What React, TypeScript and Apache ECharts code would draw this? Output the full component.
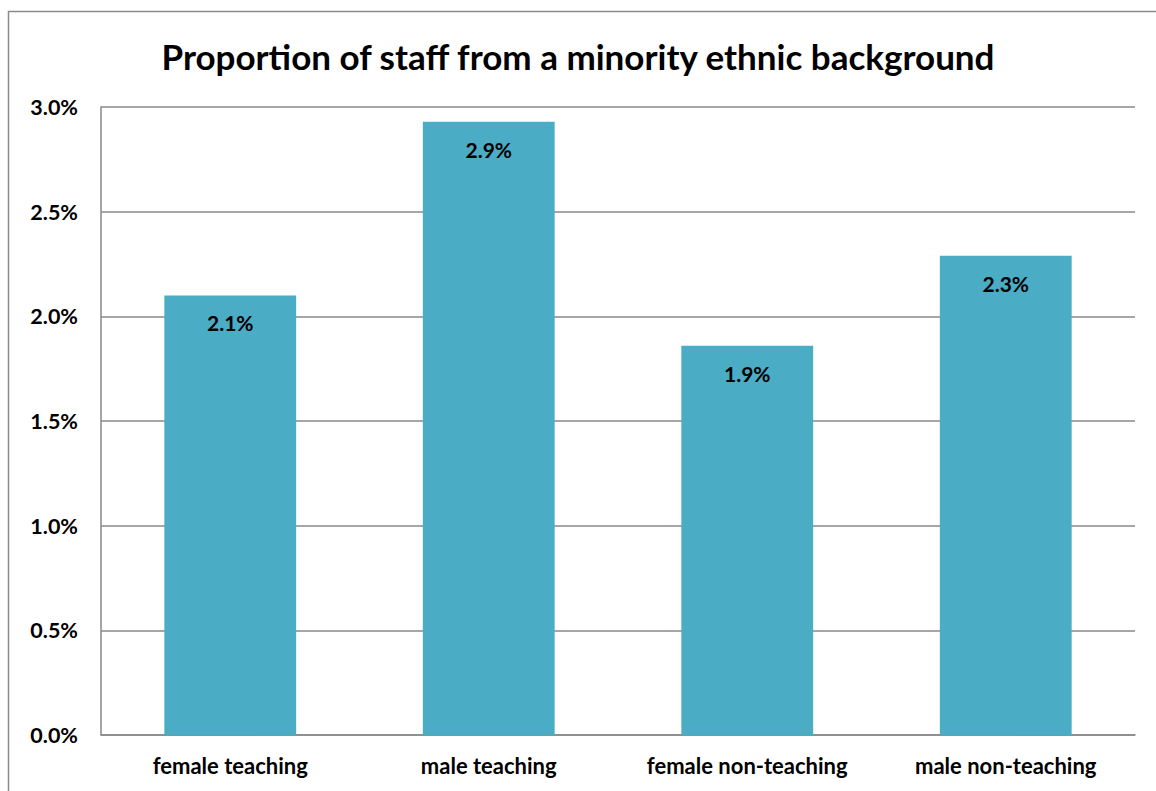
import React, { useEffect, useRef } from "react";
import * as echarts from "echarts";

const titleText = "Proportion of staff from a minority ethnic background";
const categories = ["female teaching", "male teaching", "female non-teaching", "male non-teaching"];
const values = [2.1, 2.93, 1.86, 2.29];
const yMin = 0;
const yMax = 3;
const yStep = 0.5;

const FONT = "Lato, 'Open Sans', sans-serif";

export default function App() {
  const ref = useRef<HTMLDivElement>(null);
  useEffect(() => {
    if (!ref.current) return;
    const chart = echarts.init(ref.current, null, { renderer: "svg" });
    chart.setOption({
      animation: false,
      backgroundColor: "#ffffff",
      title: {
        text: titleText,
        left: "center",
        top: 33,
        textStyle: { fontFamily: FONT, fontWeight: "bold", fontSize: 35, color: "#000" },
      },
      graphic: [
        {
          type: "rect",
          shape: { x: 8.5, y: 11.5, width: 1200, height: 900 },
          style: { fill: "none", stroke: "#8a8a8a", lineWidth: 1.5 },
          silent: true,
        },
      ],
      grid: { left: 101, right: 21, top: 107, bottom: 56 },
      xAxis: {
        type: "category",
        data: categories,
        axisLine: { show: true, lineStyle: { color: "#888", width: 1.5 } },
        axisTick: { show: false },
        axisLabel: {
          interval: 0,
          hideOverlap: false,
          fontFamily: FONT,
          fontWeight: "bold",
          fontSize: 22,
          color: "#000",
          margin: 19,
        },
      },
      yAxis: {
        type: "value",
        min: yMin,
        max: yMax,
        interval: yStep,
        axisLine: { show: true, lineStyle: { color: "#888", width: 1.5 } },
        axisTick: { show: false },
        splitLine: { show: true, lineStyle: { color: "#888", width: 1.5 } },
        axisLabel: {
          fontFamily: FONT,
          fontWeight: "bold",
          fontSize: 21.5,
          color: "#000",
          margin: 23,
          formatter: (v: number) => v.toFixed(1) + "%",
        },
      },
      series: [
        {
          type: "bar",
          data: values,
          barWidth: "51%",
          itemStyle: { color: "#4BACC6" },
          label: {
            show: true,
            position: "insideTop",
            distance: 17,
            fontFamily: FONT,
            fontWeight: "bold",
            fontSize: 21,
            color: "#000",
            formatter: (p: any) => p.value.toFixed(1) + "%",
          },
        },
      ],
    });
    return () => chart.dispose();
  }, []);
  return (
    <div
      ref={ref}
      style={{ position: "absolute", left: 0, top: 0, width: 1156, height: 791 }}
    />
  );
}
